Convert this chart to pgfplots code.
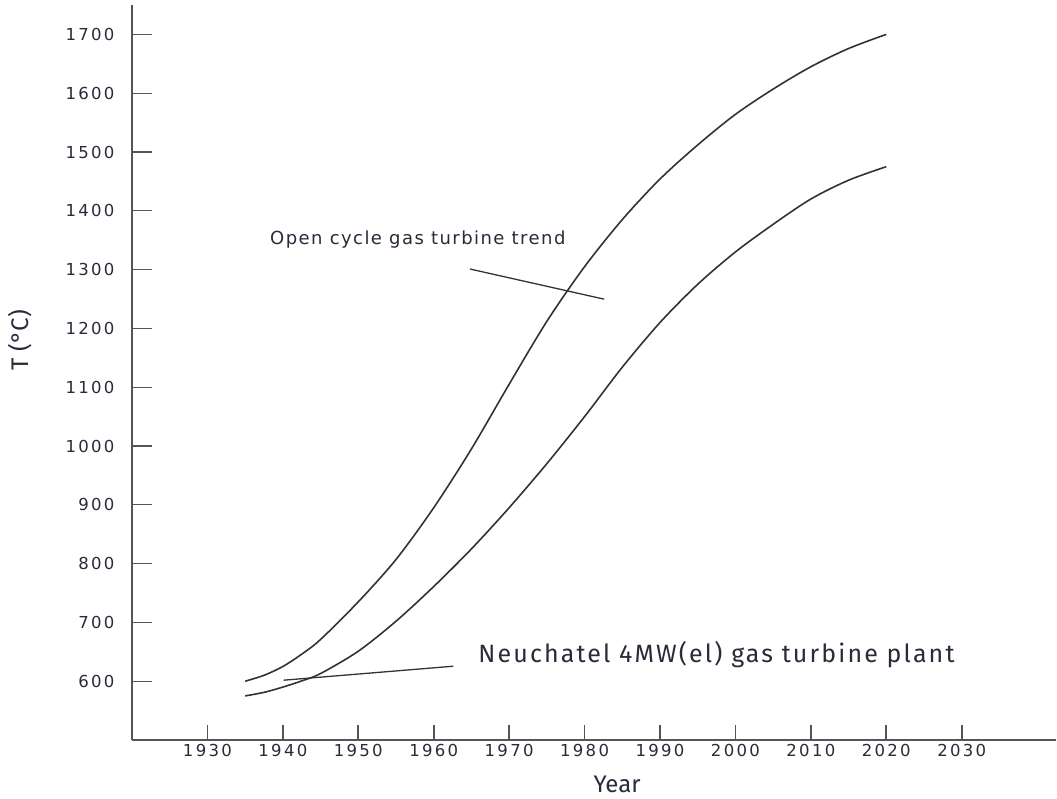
\documentclass[border=0pt]{standalone}
\usepackage{pgfplots}
\pgfplotsset{compat=1.18}
\usepackage{fontspec}
\setmainfont{Fira Sans}
\newfontfamily\tickfont[LetterSpace=14]{DejaVu Sans}
\newfontfamily\notefont[LetterSpace=8]{DejaVu Sans}
\newfontfamily\plantfont[LetterSpace=8.5]{Fira Sans}
\definecolor{axisgray}{HTML}{555555}
\definecolor{curve}{HTML}{333333}
\definecolor{txt}{HTML}{2A2A3A}

\begin{document}
\begin{tikzpicture}
\begin{axis}[
  name=main,
  scale only axis,
  width=924pt, height=735pt,
  xmin=1920, xmax=2042.5,
  ymin=500, ymax=1750,
  axis x line*=bottom, axis y line*=left,
  axis line style={axisgray, line width=2pt, -},
  xtick={1930,1940,...,2030},
  ytick={600,700,...,1700},
  major tick length=0pt,
  x tick style={draw=none},
  y tick style={draw=none},
  tick label style={font=\tickfont\fontsize{16.5}{19}\selectfont, text=txt},
  /pgf/number format/assume math mode=true,
  /pgf/number format/1000 sep={},
  yticklabel style={xshift=-14pt},
  xticklabel style={yshift=-1pt},
  clip=false,
  xlabel={Year},
  ylabel={T (°C)},
  label style={font=\fontsize{24}{27}\selectfont, text=txt},
  xlabel style={at={(axis description cs:0.525,-0.061)}, anchor=center},
  ylabel style={at={(axis description cs:-0.121,0.544)}, anchor=center},
]
% tick marks drawn from the axis lines inward
\pgfplotsinvokeforeach{1930,1940,...,2030}{
  \draw[axisgray, line width=1.6pt] (axis cs:#1,500) -- ([yshift=15pt]axis cs:#1,500);
}
\pgfplotsinvokeforeach{600,700,...,1700}{
  \draw[axisgray, line width=1.2pt] (axis cs:1920,#1) -- ([xshift=20pt]axis cs:1920,#1);
}

% open cycle gas turbine inlet temperature
\addplot[curve, line width=1.6pt, smooth, tension=0.5] coordinates {
  (1935,600) (1937.5,610) (1940,625) (1942.5,646) (1945,671) (1950,735)
  (1955,807) (1960,895) (1965,995) (1970,1105) (1975,1212) (1980,1305)
  (1985,1385) (1990,1454) (1995,1512) (2000,1564) (2005,1607) (2010,1645)
  (2015,1676) (2020,1700)
};
% lower trend
\addplot[curve, line width=1.6pt, smooth, tension=0.5] coordinates {
  (1935,575) (1937.5,581) (1940,590) (1942.5,600.5) (1945,613) (1950,651)
  (1955,702) (1960,761) (1965,825) (1970,895) (1975,970) (1980,1050)
  (1985,1134) (1990,1210) (1995,1275) (2000,1330) (2005,1377) (2010,1420)
  (2015,1452) (2020,1475)
};

% pointer lines
\draw[curve, line width=1.3pt] (axis cs:1964.8,1301) -- (axis cs:1982.6,1249.7);
\draw[curve, line width=1.3pt] (axis cs:1940.1,601.7) -- (axis cs:1962.6,625.5);

\node[anchor=west, inner sep=0pt, text=txt, font=\notefont\fontsize{18}{21}\selectfont]
  at (axis cs:1938.3,1351) {Open cycle gas turbine trend};
\node[anchor=west, inner sep=0pt, text=txt, font=\plantfont\fontsize{25}{28}\selectfont]
  at (axis cs:1965.9,645) {Neuchatel 4MW(el) gas turbine plant};
\end{axis}
\path[use as bounding box] ([xshift=-132pt,yshift=-58pt]main.south west) rectangle ++(1057pt,798pt);
\end{tikzpicture}
\end{document}
